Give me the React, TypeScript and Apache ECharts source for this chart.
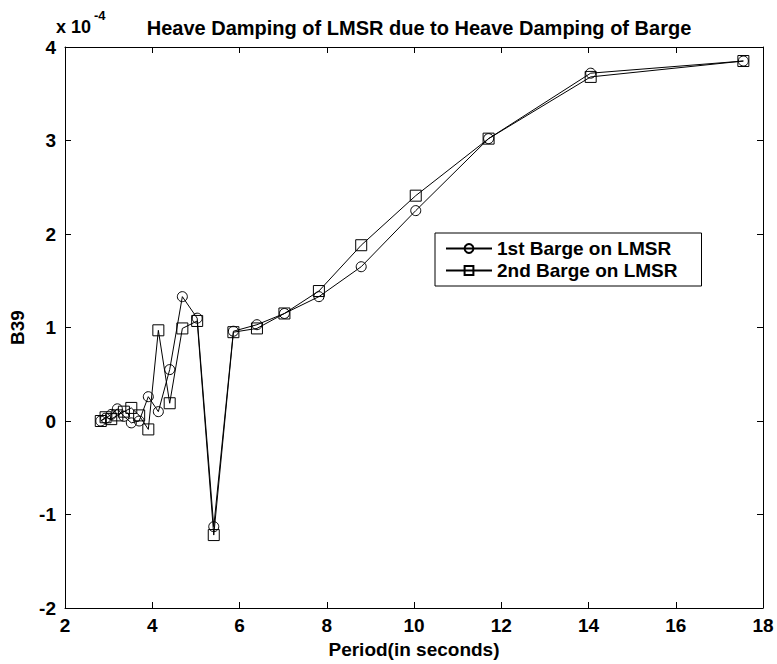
import React, { useEffect, useRef } from "react";
import * as echarts from "echarts";

// Period (s) for each frequency step
const periods = [2.82, 2.93, 3.06, 3.2, 3.35, 3.52, 3.7, 3.91, 4.14, 4.4, 4.69, 5.03, 5.41, 5.86, 6.4, 7.03, 7.82, 8.79, 10.04, 11.71, 14.05, 17.55];
// B39 values in units of 1e-4
const barge1 = [0.0, 0.03, 0.07, 0.13, 0.05, -0.02, 0.0, 0.26, 0.1, 0.55, 1.33, 1.1, -1.13, 0.96, 1.03, 1.15, 1.33, 1.65, 2.25, 3.02, 3.72, 3.85];
const barge2 = [0.0, 0.04, 0.02, 0.06, 0.1, 0.14, 0.06, -0.09, 0.97, 0.19, 0.99, 1.07, -1.22, 0.95, 0.99, 1.15, 1.39, 1.88, 2.41, 3.02, 3.68, 3.85];
const seriesNames = ["1st Barge on LMSR", "2nd Barge on LMSR"];
const titleText = "Heave Damping of LMSR due to Heave Damping of Barge";
const xName = "Period(in seconds)";
const yName = "B39";

const FONT = "'Liberation Sans', Arial, sans-serif";

export default function App() {
  const ref = useRef<HTMLDivElement>(null);
  useEffect(() => {
    if (!ref.current) return;
    const chart = echarts.init(ref.current, undefined, { renderer: "svg" });
    const axisCommon = {
      axisLine: { show: true, onZero: false, lineStyle: { color: "#000", width: 1 } },
      axisTick: { show: true, inside: true, length: 6, lineStyle: { color: "#000" } },
      splitLine: { show: false },
    };
    const mk = (name: string, data: number[], symbol: string) => ({
      name,
      type: "line",
      xAxisIndex: 0,
      yAxisIndex: 0,
      data: periods.map((p, i) => [p, data[i]]),
      symbol,
      symbolSize: symbol === "circle" ? 10 : 11,
      showSymbol: true,
      lineStyle: { color: "#000", width: 1 },
      itemStyle: { color: "transparent", borderColor: "#000", borderWidth: 1 },
      emphasis: { disabled: true },
    });
    chart.setOption({
      animation: false,
      backgroundColor: "#fff",
      textStyle: { fontFamily: FONT },
      title: {
        text: titleText,
        left: 414,
        textAlign: "center",
        top: 13,
        textStyle: { fontSize: 20, fontWeight: "bold", color: "#000", fontFamily: FONT },
      },
      grid: { left: 65, right: 14, top: 47, bottom: 52 },
      legend: {
        orient: "vertical",
        left: 435,
        top: 233,
        itemWidth: 46,
        itemHeight: 11,
        itemGap: 3,
        padding: [6, 24, 6, 10],
        borderColor: "#000",
        borderWidth: 1,
        backgroundColor: "#fff",
        textStyle: { fontSize: 19, fontWeight: "bold", color: "#000", fontFamily: FONT },
        data: seriesNames,
      },
      xAxis: [
        {
          type: "value",
          min: 2,
          max: 18,
          interval: 2,
          ...axisCommon,
          axisLabel: { color: "#000", fontSize: 19, fontWeight: "bold", margin: 8, fontFamily: FONT },
          name: xName,
          nameLocation: "middle",
          nameGap: 32,
          nameTextStyle: { fontSize: 19, fontWeight: "bold", color: "#000", fontFamily: FONT },
        },
        {
          type: "value",
          position: "top",
          min: 2,
          max: 18,
          interval: 2,
          ...axisCommon,
          axisLabel: { show: false },
        },
      ],
      yAxis: [
        {
          type: "value",
          min: -2,
          max: 4,
          interval: 1,
          ...axisCommon,
          axisLabel: { color: "#000", fontSize: 19, fontWeight: "bold", margin: 9, fontFamily: FONT },
          name: yName,
          nameLocation: "middle",
          nameGap: 38,
          nameTextStyle: { fontSize: 19, fontWeight: "bold", color: "#000", fontFamily: FONT },
        },
        {
          type: "value",
          position: "right",
          min: -2,
          max: 4,
          interval: 1,
          ...axisCommon,
          axisLabel: { show: false },
        },
      ],
      graphic: [
        {
          type: "text",
          left: 56,
          top: 18,
          style: { text: "x 10", fontSize: 18, fontWeight: "bold", fill: "#000", fontFamily: FONT },
        },
        {
          type: "text",
          left: 94,
          top: 9,
          style: { text: "-4", fontSize: 13, fontWeight: "bold", fill: "#000", fontFamily: FONT },
        },
      ],
      series: [mk(seriesNames[0], barge1, "circle"), mk(seriesNames[1], barge2, "rect")],
    });
    return () => chart.dispose();
  }, []);
  return (
    <div
      ref={ref}
      style={{ position: "absolute", left: 0, top: 0, width: 777, height: 664 }}
    />
  );
}
